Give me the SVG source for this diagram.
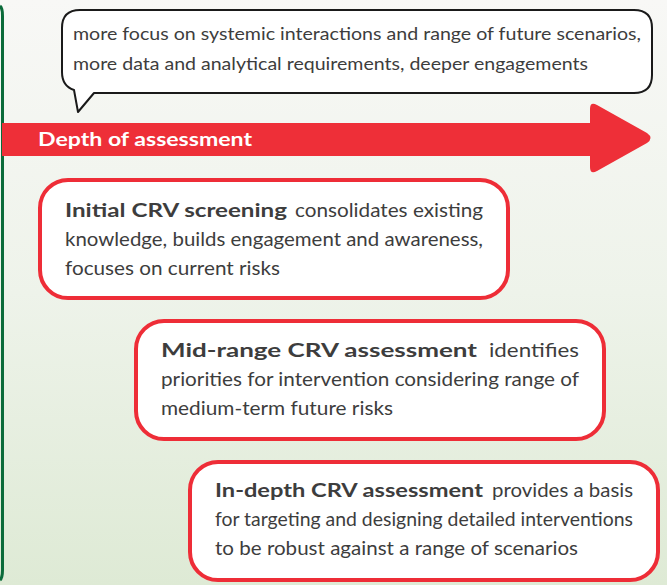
<svg xmlns="http://www.w3.org/2000/svg" width="667" height="585" viewBox="0 0 667 585">
<defs>
<linearGradient id="bg" x1="0" y1="0" x2="0" y2="1">
<stop offset="0" stop-color="#f8f8f6"/>
<stop offset="0.5" stop-color="#eef3ea"/>
<stop offset="1" stop-color="#deead5"/>
</linearGradient>
<style>
.t{font-family:Lato,"Liberation Sans",sans-serif;fill:#3d3d3d;font-size:19px}
.b{font-weight:bold}
.bub{font-family:Lato,"Liberation Sans",sans-serif;fill:#3d3d3d;font-size:17px}
.box{fill:#ffffff;stroke:#ee2d37;stroke-width:4}
</style>
</defs>
<rect x="0" y="0" width="667" height="585" fill="url(#bg)"/>
<path d="M0,6 Q2.5,8 2.5,16 V570 Q2.5,578 0,580" fill="none" stroke="#0b6b3a" stroke-width="3"/>

<g id="connectors">
<path id="depth-arrow" d="M2,123 H590 V109 Q590,101 597,105 L647,133 Q654,138 647,143 L597,171 Q590,175 590,167 V156 H2 Z" fill="#ee2f38"/>
<text x="38" y="146" textLength="214" lengthAdjust="spacingAndGlyphs" style="font-family:Lato,'Liberation Sans',sans-serif;font-weight:bold;font-size:19px;fill:#ffffff">Depth of assessment</text>
</g>

<g id="callout">
<path d="M80,10 H634 Q652,10 652,28 V75 Q652,93 634,93 H94 L78,112 L74,90 Q62,86 62,72 V28 Q62,10 80,10 Z" fill="#ffffff" stroke="#1a1a1a" stroke-width="2" stroke-linejoin="round"/>
<text class="bub" x="73" y="40" textLength="568" lengthAdjust="spacingAndGlyphs">more focus on systemic interactions and range of future scenarios,</text>
<text class="bub" x="73" y="70" textLength="515" lengthAdjust="spacingAndGlyphs">more data and analytical requirements, deeper engagements</text>
</g>

<g id="initial-screening">
<rect class="box" x="40" y="180" width="468" height="118" rx="28"/>
<text class="t b" x="65" y="217" textLength="222" lengthAdjust="spacingAndGlyphs">Initial CRV screening</text>
<text class="t" x="295" y="217" textLength="188" lengthAdjust="spacingAndGlyphs">consolidates existing</text>
<text class="t" x="65" y="246" textLength="418" lengthAdjust="spacingAndGlyphs">knowledge, builds engagement and awareness,</text>
<text class="t" x="65" y="275" textLength="215" lengthAdjust="spacingAndGlyphs">focuses on current risks</text>
</g>

<g id="mid-range">
<rect class="box" x="136" y="321" width="468" height="118" rx="28"/>
<text class="t b" x="161" y="357" textLength="316" lengthAdjust="spacingAndGlyphs">Mid-range CRV assessment</text>
<text class="t" x="489" y="357" textLength="90" lengthAdjust="spacingAndGlyphs">identifies</text>
<text class="t" x="161" y="386" textLength="418" lengthAdjust="spacingAndGlyphs">priorities for intervention considering range of</text>
<text class="t" x="161" y="415" textLength="232" lengthAdjust="spacingAndGlyphs">medium-term future risks</text>
</g>

<g id="in-depth">
<rect class="box" x="190" y="462" width="468" height="118" rx="28"/>
<text class="t b" x="215" y="497" textLength="268" lengthAdjust="spacingAndGlyphs">In-depth CRV assessment</text>
<text class="t" x="492" y="497" textLength="141" lengthAdjust="spacingAndGlyphs">provides a basis</text>
<text class="t" x="215" y="526" textLength="418" lengthAdjust="spacingAndGlyphs">for targeting and designing detailed interventions</text>
<text class="t" x="215" y="555" textLength="363" lengthAdjust="spacingAndGlyphs">to be robust against a range of scenarios</text>
</g>
</svg>
